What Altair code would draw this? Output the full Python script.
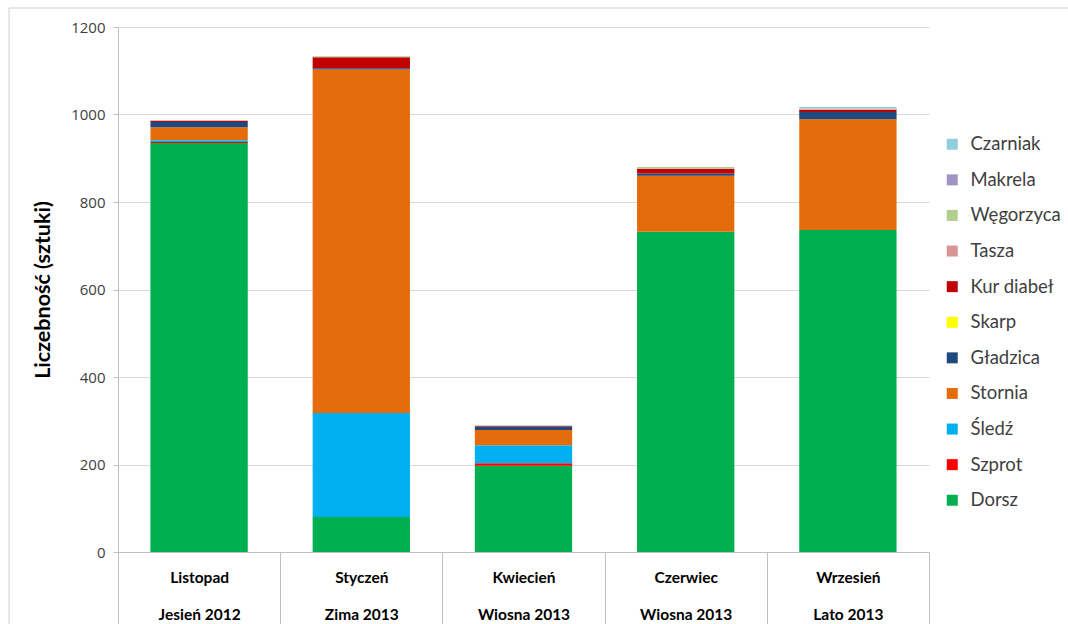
import altair as alt
import pandas as pd

# Categories (month | season)
okresy = ["Listopad|Jesień 2012", "Styczeń|Zima 2013", "Kwiecień|Wiosna 2013",
          "Czerwiec|Wiosna 2013", "Wrzesień|Lato 2013"]

# Species in stacking order (bottom -> top)
gatunki = ["Dorsz", "Szprot", "Śledź", "Stornia", "Gładzica", "Skarp",
           "Kur diabeł", "Tasza", "Węgorzyca", "Makrela", "Czarniak"]
kolory = ["#00B050", "#FF0000", "#00B0F0", "#E46C0A", "#1F497D", "#FFFF00",
          "#C00000", "#D99594", "#B3CF8F", "#A094C4", "#92CDDC"]

# Values per species (Listopad, Styczeń, Kwiecień, Czerwiec, Wrzesień)
dorsz      = [935, 80, 197, 732, 736]
szprot     = [2, 0, 6, 0, 0]
sledz      = [4, 238, 41, 0, 0]
stornia    = [30, 785, 35, 128, 253]
gladzica   = [12, 3, 8, 5, 17]
skarp      = [0, 0, 0, 0, 0]
kur_diabel = [3, 25, 1, 11, 5]
tasza      = [0, 0, 1, 0, 1]
wegorzyca  = [0, 2, 0, 4, 1]
makrela    = [0, 0, 0, 0, 1]
czarniak   = [1, 0, 1, 0, 3]

wartosci = [dorsz, szprot, sledz, stornia, gladzica, skarp, kur_diabel,
            tasza, wegorzyca, makrela, czarniak]

y_ticks = [0, 200, 400, 600, 800, 1000, 1200]

rows = []
for i, (g, vals) in enumerate(zip(gatunki, wartosci)):
    for o, v in zip(okresy, vals):
        rows.append({"okres": o, "gatunek": g, "liczba": v, "kolejnosc": i})
df = pd.DataFrame(rows)

legend_order = gatunki[::-1]
legend_colors = kolory[::-1]

W, H = 811, 525
FONT = "Lato"

bars = alt.Chart(df).mark_bar(strokeWidth=0, width=alt.RelativeBandSize(0.6)).encode(
    x=alt.X("okres:N", sort=okresy,
            scale=alt.Scale(paddingInner=0, paddingOuter=0),
            axis=alt.Axis(title=None, labelExpr="split(datum.label, '|')",
                          labelAngle=0, tickBand="extent", tickSize=72, grid=False,
                          tickColor="#BFBFBF", domainColor="#BFBFBF",
                          labelPadding=-54, labelFontSize=15.5,
                          labelFontWeight="bold", labelLineHeight=37,
                          labelBaseline="top", labelColor="#000000",
                          labelFont=FONT)),
    y=alt.Y("liczba:Q", stack="zero",
            scale=alt.Scale(domain=[0, 1200], nice=False),
            axis=alt.Axis(values=y_ticks, format="d", title="Liczebność (sztuki)",
                          grid=True, gridColor="#D9D9D9", domainColor="#BFBFBF",
                          tickColor="#BFBFBF", tickSize=5, labelPadding=8,
                          labelFontSize=15, labelColor="#404040", labelFont="Open Sans",
                          titleFontSize=21.5, titleFontWeight="bold", titleFont=FONT,
                          titleColor="#000000", titlePadding=16)),
    color=alt.Color("gatunek:N", sort=legend_order,
                    scale=alt.Scale(domain=legend_order, range=legend_colors),
                    legend=alt.Legend(title=None, orient="none", legendX=825, legendY=108,
                                      symbolType="square", symbolSize=121,
                                      symbolStrokeWidth=0, labelFontSize=18.5,
                                      labelOffset=9,
                                      labelFont=FONT, labelColor="#404040",
                                      rowPadding=16.6, labelLimit=300)),
    order=alt.Order("kolejnosc:Q", sort="ascending"),
)

frame_df = pd.DataFrame({"f": [0]})
frame_top = alt.Chart(frame_df).mark_rule(color="#D0D0D0", strokeWidth=1).encode(
    x=alt.value(-109), x2=alt.value(W + 200), y=alt.value(-19),
)
frame_left = alt.Chart(frame_df).mark_rule(color="#D0D0D0", strokeWidth=1).encode(
    x=alt.value(-109), y=alt.value(-19), y2=alt.value(H + 200),
)

chart = alt.layer(frame_top, frame_left, bars).properties(
    width=W, height=H,
    background="white",
    autosize=alt.AutoSizeParams(type="none"),
    padding={"left": 118, "top": 27, "right": 139, "bottom": 72},
).configure_view(stroke="transparent", strokeWidth=0)

chart.save("out.html", embed_options={"renderer": "svg", "actions": False})
